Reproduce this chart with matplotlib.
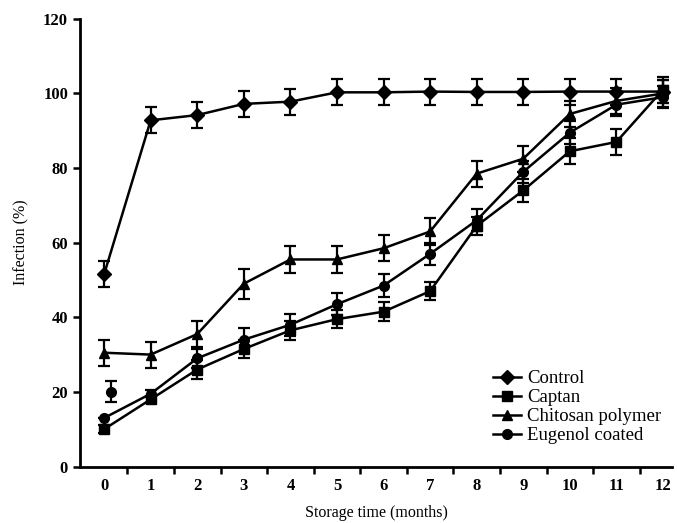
import matplotlib.pyplot as plt
from matplotlib.lines import Line2D
import numpy as np

# Storage time categories (months)
months = ['0', '1', '2', '3', '4', '5', '6', '7', '8', '9', '10', '11', '12']

# Infection (%)
control = [51.5, 92.8, 94.2, 97.2, 97.8, 100.3, 100.3, 100.5, 100.4, 100.4, 100.5, 100.5, 100.5]
control_err = [3.5, 3.5, 3.5, 3.5, 3.5, 3.5, 3.5, 3.5, 3.5, 3.5, 3.5, 3.5, 3.0]

captan = [10.0, 18.0, 26.0, 31.5, 36.5, 39.5, 41.5, 47.0, 64.5, 74.0, 84.5, 87.0, 101.0]
captan_err = [1.0, 1.0, 2.5, 2.5, 2.5, 2.5, 2.5, 2.5, 2.5, 3.0, 3.5, 3.5, 3.5]

chitosan = [30.5, 30.0, 35.5, 49.0, 55.5, 55.5, 58.5, 63.0, 78.5, 82.5, 94.5, 98.0, 100.0]
chitosan_err = [3.5, 3.5, 3.5, 4.0, 3.5, 3.5, 3.5, 3.5, 3.5, 3.5, 3.5, 3.5, 3.5]

eugenol = [13.0, 19.5, 29.0, 34.0, 38.0, 43.5, 48.5, 57.0, 66.0, 79.0, 89.5, 97.0, 99.0]
eugenol_err = [0.0, 1.0, 2.5, 3.0, 3.0, 3.0, 3.0, 3.0, 3.0, 3.0, 3.0, 3.0, 3.0]

# stray eugenol point drawn next to month 0
eugenol_extra = 20.0
eugenol_extra_err = 2.8

series = [
    ('Control', control, control_err, 'D'),
    ('Captan', captan, captan_err, 's'),
    ('Chitosan polymer', chitosan, chitosan_err, '^'),
    ('Eugenol coated', eugenol, eugenol_err, 'o'),
]

plt.rcParams['font.family'] = ['Liberation Serif', 'DejaVu Serif']

fig = plt.figure(figsize=(6.77, 5.23), dpi=100)
ax = fig.add_axes([0.118, 0.108, 0.875, 0.856])

x = np.arange(len(months))
style = dict(color='black', lw=1.8, capsize=4, elinewidth=1.6, capthick=1.6, markersize=7)

handles = []
for name, vals, err, mk in series:
    ax.errorbar(x, vals, yerr=err, marker=mk, **style)
    handles.append(Line2D([], [], color='black', lw=1.8, marker=mk, markersize=7, label=name))

ax.errorbar([x[0] + 0.15], [eugenol_extra], yerr=[eugenol_extra_err], marker='o',
            color='black', capsize=4, elinewidth=1.6, capthick=1.6, markersize=7)

ax.set_xlim(-0.52, 12.2)
ax.set_ylim(0, 120)
ax.set_yticks(range(0, 121, 20))
ax.set_xticks(x)
ax.set_xticklabels(months, fontweight='bold', fontsize=12)
ax.set_xticks(np.arange(0.5, 12, 1), minor=True)
ax.tick_params(axis='x', which='major', length=0, pad=8)
ax.tick_params(axis='x', which='minor', length=5, width=1.8)
ax.tick_params(axis='y', length=5, width=1.8, labelsize=12)
for lab in ax.get_yticklabels():
    lab.set_fontweight('bold')

ax.spines['top'].set_visible(False)
ax.spines['right'].set_visible(False)
ax.spines['left'].set_linewidth(2)
ax.spines['bottom'].set_linewidth(2)

ax.set_xlabel('Storage time (months)', fontsize=11.5, labelpad=8)
ax.set_ylabel('Infection (%)', fontsize=11.5, labelpad=10)

ax.legend(handles=handles, loc='lower right', bbox_to_anchor=(1.0, 0.025), frameon=False,
          fontsize=13.5, handlelength=1.5, handletextpad=0.3, labelspacing=0.1,
          borderaxespad=0.2)

plt.savefig('out.png', dpi=100)
